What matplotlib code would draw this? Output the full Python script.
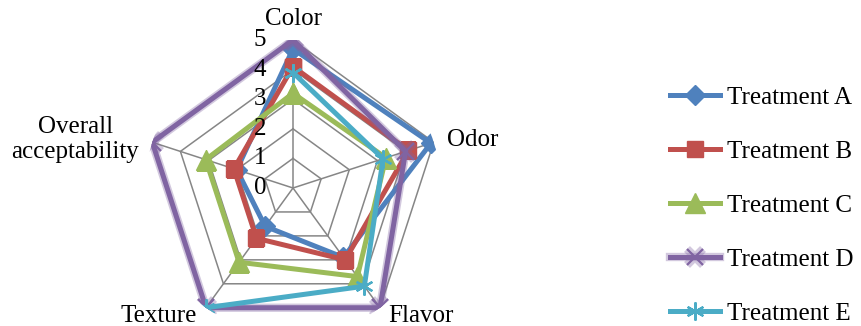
import numpy as np
import matplotlib
matplotlib.use("Agg")
import matplotlib.pyplot as plt
import matplotlib.patheffects as pe

# categories and scores
categories = ["Color", "Odor", "Flavor", "Texture", "Overall\nacceptability"]
treatment_a = [4.7, 4.9, 2.9, 1.6, 2.0]
treatment_b = [4.1, 4.1, 3.0, 2.1, 2.1]
treatment_c = [3.2, 3.3, 3.7, 3.1, 3.1]
treatment_d = [5.0, 4.0, 5.0, 5.0, 5.0]
treatment_e = [3.9, 3.2, 4.1, 5.0, np.nan]  # no value for overall acceptability
series_names = ["Treatment A", "Treatment B", "Treatment C", "Treatment D", "Treatment E"]
rings = [1, 2, 3, 4, 5]
ring_labels = ["0", "1", "2", "3", "4", "5"]

colors = ["#4F81BD", "#C0504D", "#9BBB59", "#8064A2", "#4BACC6"]
markers = ["D", "s", "^", "x", (6, 2, 0)]
msizes = [10, 12, 14, 12, 13]

plt.rcParams["font.family"] = ["Liberation Serif", "DejaVu Serif"]
plt.rcParams["font.size"] = 18

fig = plt.figure(figsize=(8.61, 3.26), dpi=100)
cx, cy, R = 293, 188, 148
ax = fig.add_axes([(cx - R) / 861, (326 - cy - R) / 326, 2 * R / 861, 2 * R / 326],
                  projection="polar")
ax.set_theta_zero_location("N")
ax.set_theta_direction(-1)
ax.set_ylim(0, 5)
ax.grid(False)
ax.set_xticks([])
ax.set_yticks([])
ax.spines["polar"].set_visible(False)
ax.patch.set_visible(False)

n = len(categories)
theta = np.arange(n) * 2 * np.pi / n
theta_c = np.append(theta, theta[0])

# pentagon grid
for r in rings:
    ax.plot(theta_c, [r] * (n + 1), color="#868686", lw=1.1, zorder=1)
for t in theta:
    ax.plot([t, t], [0, 5], color="#868686", lw=1.1, zorder=1)

# series
data = [treatment_a, treatment_b, treatment_c, treatment_d, treatment_e]
for vals, name, c, m, ms in zip(data, series_names, colors, markers, msizes):
    v = np.append(vals, vals[0])
    mew = 1.6 if m in ("x", (6, 2, 0)) else 1
    line, = ax.plot(theta_c, v, color=c, lw=3.6, marker=m, markersize=ms,
                    markeredgewidth=mew, label=name, zorder=3)
    if name == "Treatment D":
        line.set_path_effects([pe.Stroke(linewidth=6, foreground=c, alpha=0.35),
                               pe.Normal()])

# value labels along the Color axis
for i, lab in enumerate(ring_labels):
    ax.annotate(lab, (0, i), xytext=(-33, 0), textcoords="offset pixels",
                ha="center", va="center", fontsize=18)

# category labels
ax.annotate(categories[0], (theta[0], 5), xytext=(0, 21), textcoords="offset pixels",
            ha="center", va="center")
ax.annotate(categories[1], (theta[1], 5), xytext=(13, 2), textcoords="offset pixels",
            ha="left", va="center")
ax.annotate(categories[2], (theta[2], 5), xytext=(8, -8), textcoords="offset pixels",
            ha="left", va="center")
ax.annotate(categories[3], (theta[3], 5), xytext=(-9, -8), textcoords="offset pixels",
            ha="right", va="center")
ax.annotate(categories[4], (theta[4], 5), xytext=(-13, 3), textcoords="offset pixels",
            ha="right", va="center", multialignment="center")

fig.legend(loc="center left", bbox_to_anchor=(0.752, 0.37), frameon=False,
           handlelength=2.0, handletextpad=0.3, labelspacing=1.26, fontsize=18)

fig.savefig("out.png", dpi=100)
